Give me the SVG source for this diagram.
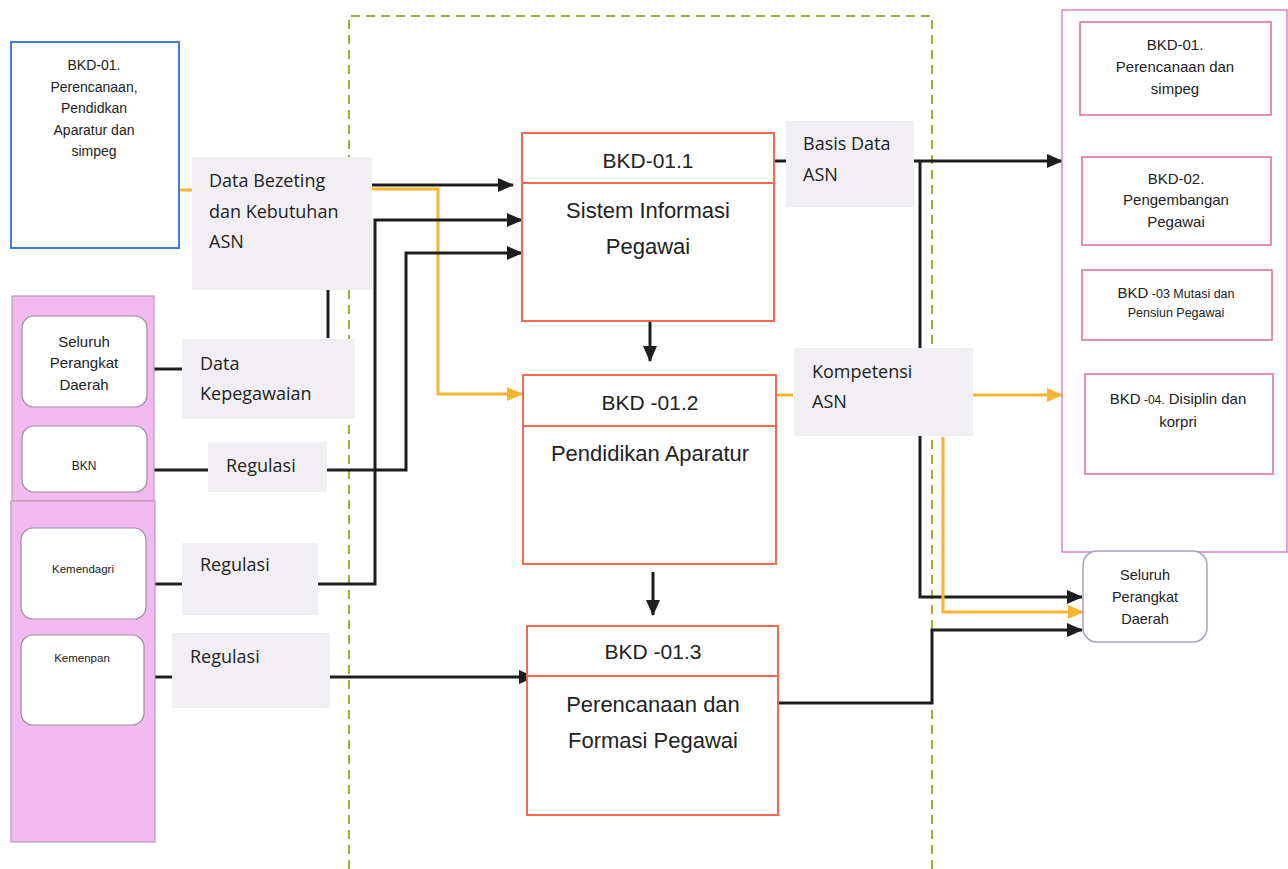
<svg xmlns="http://www.w3.org/2000/svg" width="1288" height="869" viewBox="0 0 1288 869">
<style>
.bg{fill:#ffffff}
.lbl{fill:#f1eff4}
.lt{font-family:"Open Sans","Liberation Sans",sans-serif;font-size:18px;fill:#222}
.at{font-family:"Liberation Sans",Arial,sans-serif;fill:#222;text-anchor:middle}
.proc{fill:#fff;stroke:#f26a4f;stroke-width:2}
.rb{fill:#fff;stroke:#e0679a;stroke-width:1.5}
.ib{fill:#fff;stroke:#9a8e9e;stroke-width:1.2}
.blk{fill:none;stroke:#1e1e1e;stroke-width:3}
.org{fill:none;stroke:#f8b431;stroke-width:3}
</style>
<defs>
<marker id="ab" markerUnits="userSpaceOnUse" markerWidth="16" markerHeight="14" refX="15" refY="7" orient="auto"><path d="M0,0 L16,7 L0,14 Z" fill="#1e1e1e"/></marker>
<marker id="ao" markerUnits="userSpaceOnUse" markerWidth="16" markerHeight="14" refX="15" refY="7" orient="auto"><path d="M0,0 L16,7 L0,14 Z" fill="#f8b431"/></marker>
</defs>
<rect class="bg" x="0" y="0" width="1288" height="869"/>

<!-- dashed container -->
<path id="container" d="M349,869 V16 H932 V869" fill="none" stroke="#9fb030" stroke-width="2" stroke-dasharray="9,6"/>

<!-- connectors -->
<g id="connectors">
<path class="org" d="M178,190 H192"/>
<path class="blk" d="M328,290 V338"/>
<path class="blk" d="M147,369 H182"/>
<path class="blk" d="M147,470 H208"/>
<path class="blk" d="M155,584 H182"/>
<path class="blk" d="M144,677 H172"/>
<path class="blk" d="M372,185 H513" marker-end="url(#ab)"/>
<path class="org" d="M372,189 H438 V394 H522" marker-end="url(#ao)"/>
<path class="blk" d="M318,584 H375 V220 H522" marker-end="url(#ab)"/>
<path class="blk" d="M327,470 H406 V253 H522" marker-end="url(#ab)"/>
<path class="blk" d="M330,677 H534" marker-end="url(#ab)"/>
<path class="blk" d="M650,318 V361" marker-end="url(#ab)"/>
<path class="blk" d="M653,572 V615" marker-end="url(#ab)"/>
<path class="blk" d="M774,161 H786"/>
<path class="blk" d="M914,161 H1062" marker-end="url(#ab)"/>
<path class="blk" d="M920,161 V597 H1082" marker-end="url(#ab)"/>
<path class="org" d="M776,395 H793"/>
<path class="org" d="M973,395 H1062" marker-end="url(#ao)"/>
<path class="org" d="M943,437 V612 H1083" marker-end="url(#ao)"/>
<path class="blk" d="M778,703 H932 V630 H1082" marker-end="url(#ab)"/>
</g>

<!-- blue box -->
<g id="bkd01-left">
<rect x="11" y="42" width="168" height="206" fill="#fff" stroke="#3f7fdc" stroke-width="2"/>
<text class="at" font-size="14" x="94"><tspan x="94" y="70">BKD-01.</tspan><tspan x="94" y="92">Perencanaan,</tspan><tspan x="94" y="113">Pendidkan</tspan><tspan x="94" y="135">Aparatur dan</tspan><tspan x="94" y="156">simpeg</tspan></text>
</g>

<!-- left pink panel -->
<g id="external-panel">
<rect x="12" y="296" width="142" height="205" fill="#f3b9f1" stroke="#b79ab8" stroke-width="1.2"/>
<rect x="11" y="501" width="144" height="341" fill="#f3b9f1" stroke="#b79ab8" stroke-width="1.2"/>
</g>
<g id="ext-seluruh">
<rect class="ib" x="22" y="316" width="125" height="91" rx="12"/>
<text class="at" font-size="15"><tspan x="84" y="347">Seluruh</tspan><tspan x="84" y="368">Perangkat</tspan><tspan x="84" y="390">Daerah</tspan></text>
</g>
<g id="ext-bkn">
<rect class="ib" x="22" y="426" width="125" height="66" rx="12"/>
<text class="at" font-size="12" x="84" y="470">BKN</text>
</g>
<g id="ext-kemendagri">
<rect class="ib" x="21" y="528" width="125" height="91" rx="12"/>
<text class="at" font-size="11.5" x="83" y="573">Kemendagri</text>
</g>
<g id="ext-kemenpan">
<rect class="ib" x="21" y="635" width="123" height="90" rx="12"/>
<text class="at" font-size="11.5" x="82" y="662">Kemenpan</text>
</g>

<!-- flow labels -->
<g id="lbl-bezeting">
<rect class="lbl" x="192" y="157" width="180" height="133"/>
<text class="lt"><tspan x="209" y="187">Data Bezeting</tspan><tspan x="209" y="218">dan Kebutuhan</tspan><tspan x="209" y="248">ASN</tspan></text>
</g>
<g id="lbl-kepegawaian">
<rect class="lbl" x="182" y="339" width="173" height="80"/>
<text class="lt"><tspan x="200" y="370">Data</tspan><tspan x="200" y="400">Kepegawaian</tspan></text>
</g>
<g id="lbl-regulasi-bkn">
<rect class="lbl" x="208" y="442" width="119" height="50"/>
<text class="lt" x="226" y="472">Regulasi</text>
</g>
<g id="lbl-regulasi-kemendagri">
<rect class="lbl" x="182" y="543" width="136" height="72"/>
<text class="lt" x="200" y="571">Regulasi</text>
</g>
<g id="lbl-regulasi-kemenpan">
<rect class="lbl" x="172" y="633" width="158" height="75"/>
<text class="lt" x="190" y="663">Regulasi</text>
</g>
<g id="lbl-basis">
<rect class="lbl" x="786" y="121" width="128" height="86"/>
<text class="lt"><tspan x="803" y="150">Basis Data</tspan><tspan x="803" y="181">ASN</tspan></text>
</g>
<g id="lbl-kompetensi">
<rect class="lbl" x="794" y="348" width="179" height="88"/>
<text class="lt"><tspan x="812" y="378">Kompetensi</tspan><tspan x="812" y="408">ASN</tspan></text>
</g>

<!-- process boxes -->
<g id="bkd-01-1">
<rect class="proc" x="522" y="133" width="252" height="188"/>
<line x1="522" y1="183" x2="774" y2="183" stroke="#f26a4f" stroke-width="2"/>
<text class="at" font-size="21" x="648" y="168">BKD-01.1</text>
<text class="at" font-size="22"><tspan x="648" y="218">Sistem Informasi</tspan><tspan x="648" y="254">Pegawai</tspan></text>
</g>
<g id="bkd-01-2">
<rect class="proc" x="523" y="375" width="253" height="189"/>
<line x1="523" y1="426" x2="776" y2="426" stroke="#f26a4f" stroke-width="2"/>
<text class="at" font-size="21" x="650" y="410">BKD -01.2</text>
<text class="at" font-size="22" x="650" y="461">Pendidikan Aparatur</text>
</g>
<g id="bkd-01-3">
<rect class="proc" x="527" y="626" width="251" height="189"/>
<line x1="527" y1="676" x2="778" y2="676" stroke="#f26a4f" stroke-width="2"/>
<text class="at" font-size="21" x="653" y="659">BKD -01.3</text>
<text class="at" font-size="22"><tspan x="653" y="712">Perencanaan dan</tspan><tspan x="653" y="748">Formasi Pegawai</tspan></text>
</g>

<!-- right container -->
<g id="bkd-units">
<rect x="1062" y="10" width="225" height="542" fill="#fff" stroke="#e083cb" stroke-width="1.5"/>
</g>
<g id="unit-01">
<rect class="rb" x="1080" y="22" width="191" height="93"/>
<text class="at" font-size="15"><tspan x="1175" y="50">BKD-01.</tspan><tspan x="1175" y="72">Perencanaan dan</tspan><tspan x="1175" y="94">simpeg</tspan></text>
</g>
<g id="unit-02">
<rect class="rb" x="1082" y="157" width="189" height="88"/>
<text class="at" font-size="15"><tspan x="1176" y="184">BKD-02.</tspan><tspan x="1176" y="205">Pengembangan</tspan><tspan x="1176" y="227">Pegawai</tspan></text>
</g>
<g id="unit-03">
<rect class="rb" x="1082" y="270" width="190" height="70"/>
<text class="at" font-size="15"><tspan x="1176" y="298">BKD<tspan font-size="12.5"> -03 Mutasi dan</tspan></tspan><tspan x="1176" y="317" font-size="12.5">Pensiun Pegawai</tspan></text>
</g>
<g id="unit-04">
<rect class="rb" x="1085" y="374" width="188" height="100"/>
<text class="at" font-size="15"><tspan x="1178" y="404">BKD<tspan font-size="12"> -04.</tspan> Disiplin dan</tspan><tspan x="1178" y="427">korpri</tspan></text>
</g>
<g id="seluruh-right">
<rect x="1083" y="551" width="124" height="91" rx="14" fill="#fff" stroke="#a9a0c0" stroke-width="1.5"/>
<text class="at" font-size="14.5"><tspan x="1145" y="580">Seluruh</tspan><tspan x="1145" y="602">Perangkat</tspan><tspan x="1145" y="624">Daerah</tspan></text>
</g>
</svg>
